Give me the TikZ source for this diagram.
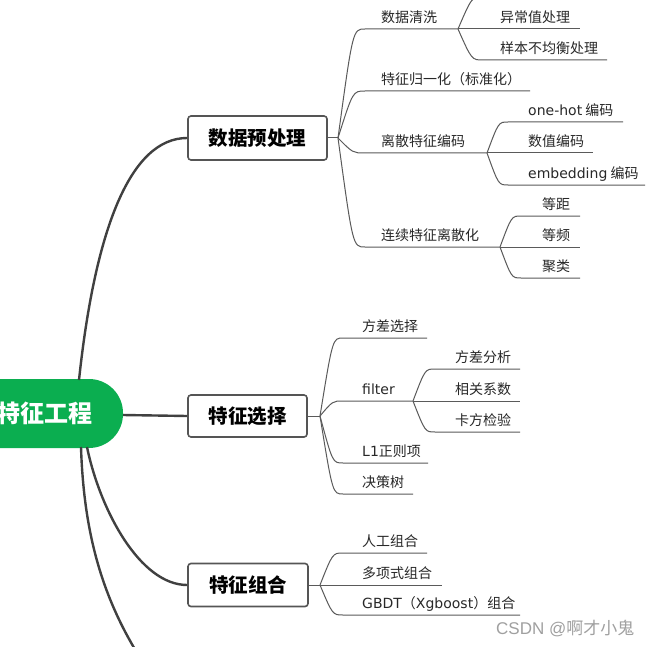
\documentclass[tikz,border=0pt]{standalone}
\usepackage{fontspec}
\setmainfont{Noto Sans CJK SC}
\newfontfamily\lat{DejaVu Sans}
\newfontfamily\wmfont{Liberation Sans}
\usetikzlibrary{calc}
\definecolor{rootgreen}{RGB}{11,174,80}
\definecolor{boxgray}{RGB}{85,85,85}
\definecolor{linegray}{RGB}{90,90,90}
\definecolor{darkline}{RGB}{64,64,64}
\definecolor{txtgray}{RGB}{40,40,40}
\definecolor{wmgray}{RGB}{160,160,160}
\tikzset{
  rootnode/.style={fill=rootgreen, rounded corners=34pt, minimum width=158pt, minimum height=69pt,
    text=white, font=\fontsize{24}{24}\selectfont\bfseries, inner sep=0pt},
  mainbox/.style={draw=boxgray, line width=1.6pt, rounded corners=3pt, fill=white,
    text=black, font=\fontsize{19.5}{20}\selectfont\bfseries, inner sep=0pt},
  leaf/.style={anchor=base west, inner sep=0pt, text=txtgray, font=\fontsize{14}{14}\selectfont},
  thinline/.style={draw=linegray, line width=1pt},
  thickline/.style={draw=darkline, line width=2.4pt},
}
% #1 name, #2 branch coordinate, #3 curve end x, #4 y, #5 line end x, #6 text x, #7 text
\newcommand\mmleaf[7]{%
  \node[leaf] (#1) at (#6,#4-6.5) {#7};
  \coordinate (#1s) at (#3,#4);
  \coordinate (#1e) at (#5,#4);
  \coordinate (#1m) at ($(#2)!0.55!(#1s)$);
  \draw[thinline] (#2) .. controls (#1m |- #1s) .. (#1s) -- (#1e);
}
\begin{document}
\begin{tikzpicture}[x=1pt,y=-1pt]
\useasboundingbox (0,0) rectangle (647,647);
\clip (0,0) rectangle (647,647);
\fill[white] (0,0) rectangle (647,647);

% root and main boxes
\node[rootnode] (root) at (44,413.5) {特征工程};
\node[mainbox, minimum width=139pt, minimum height=44pt] (dpre) at (257.5,138) {数据预处理};
\node[mainbox, minimum width=119pt, minimum height=42pt] (fsel) at (247.5,416) {特征选择};
\node[mainbox, minimum width=120pt, minimum height=43pt] (fcom) at (248,585) {特征组合};

% root connectors
\coordinate (r1) at (79,380);
\coordinate (r2) at (123,415);
\coordinate (r3) at (87,447);
\coordinate (r4) at (81,447);
\coordinate (rout) at (155,680);
\draw[thickline] (r1) .. controls (95,230) and (130,138) .. (dpre.west);
\draw[thickline] (r2) -- (fsel.west);
\draw[thickline] (r3) .. controls (100,510) and (140,585) .. (fcom.west);
\draw[thickline] (r4) .. controls (84,540) and (105,610) .. (rout);

% branch points
\coordinate (b1) at (338,138);
\coordinate (b2) at (320,416);
\coordinate (b3) at (320,585);
\draw[thinline] (dpre.east) -- (b1);
\draw[thinline] (fsel.east) -- (b2);
\draw[thinline] (fcom.east) -- (b3);

% subtree 1
\mmleaf{sjqx}{b1}{365}{29}{458}{381}{数据清洗}
\mmleaf{gyh}{b1}{365}{91}{530}{381}{特征归一化（标准化）}
\mmleaf{lsbm}{b1}{365}{153}{487}{381}{离散特征编码}
\mmleaf{lxls}{b1}{365}{247}{500}{381}{连续特征离散化}

\coordinate (hids) at (483,-3);
\coordinate (hide) at (600,-3);
\coordinate (hidm) at ($(sjqxe)!0.55!(hids)$);
\draw[thinline] (sjqxe) .. controls (hidm |- hids) .. (hids) -- (hide);
\mmleaf{ycz}{sjqxe}{458}{29}{580}{500}{异常值处理}
\mmleaf{ybbjh}{sjqxe}{483}{60}{607}{500}{样本不均衡处理}

\mmleaf{onehot}{lsbme}{508}{122}{623}{528}{{\lat one-hot} 编码}
\mmleaf{szbm}{lsbme}{487}{153}{593}{528}{数值编码}
\mmleaf{emb}{lsbme}{508}{185}{645}{528}{{\lat embedding} 编码}

\mmleaf{dj}{lxlse}{521}{216}{580}{542}{等距}
\mmleaf{dpin}{lxlse}{500}{247}{580}{542}{等频}
\mmleaf{jl}{lxlse}{521}{278}{580}{542}{聚类}

% subtree 2
\mmleaf{fcxz}{b2}{343}{338}{427}{362}{方差选择}
\mmleaf{filt}{b2}{343}{401}{413}{362}{{\lat filter}}
\mmleaf{lone}{b2}{343}{463}{428}{362}{{\lat L1}正则项}
\mmleaf{jcs}{b2}{343}{494}{413}{362}{决策树}

\mmleaf{fcfx}{filte}{435}{369}{520}{455}{方差分析}
\mmleaf{xgxs}{filte}{413}{401}{520}{455}{相关系数}
\mmleaf{kfjy}{filte}{435}{432}{520}{455}{卡方检验}

% subtree 3
\mmleaf{rgzh}{b3}{343}{553}{427}{362}{人工组合}
\mmleaf{dxs}{b3}{320}{585}{442}{362}{多项式组合}
\mmleaf{gbdt}{b3}{343}{615}{520}{362}{{\lat GBDT}（{\lat Xgboost}）组合}

% watermark
\node[anchor=west, inner sep=0pt, text=wmgray, font=\fontsize{17}{17}\selectfont] (wm) at (496,628) {{\wmfont CSDN @}啊才小鬼};
\end{tikzpicture}
\end{document}
